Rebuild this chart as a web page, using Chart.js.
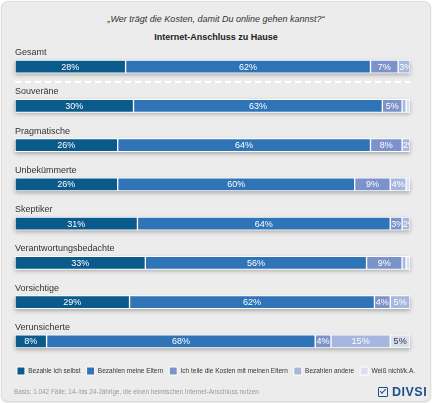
<!DOCTYPE html>
<html>
<head>
<meta charset="utf-8">
<script src="https://cdn.jsdelivr.net/npm/chart.js@4.4.1/dist/chart.umd.min.js"></script>
<style>
  html, body { margin: 0; padding: 0; background: #fff; }
  body { width: 432px; height: 403px; overflow: hidden; position: relative; font-family: 'Liberation Sans', Arial, sans-serif; }
  .panel { position: absolute; left: 1px; top: 1px; width: 428px; height: 399px; background: #ececec; border: 1px solid #dcdcdc; border-radius: 7px; box-shadow: 0 1px 2px rgba(0,0,0,0.12); }
  .wrap { position: absolute; left: 0; top: 0; width: 432px; height: 403px; }
  .title { position: absolute; left: 0; width: 432px; top: 14px; text-align: center; font-size: 9px; font-style: italic; color: #333; }
  .subtitle { position: absolute; left: 0; width: 432px; top: 32px; text-align: center; font-size: 9px; font-weight: bold; color: #222; }
  .basis { position: absolute; left: 14px; top: 388px; font-size: 6.4px; color: #9a9a9a; }
  .logo { position: absolute; left: 378px; top: 385px; font-size: 12.5px; font-weight: bold; color: #1f4e8c; letter-spacing: 0.5px; }
  .logo .box { display: inline-block; width: 8px; height: 8px; border: 1.6px solid #1f4e8c; border-radius: 1px; margin-right: 4px; vertical-align: -1px; position: relative; }
  .logo .box::after { content: ''; position: absolute; left: 1px; top: 1px; width: 5px; height: 2px; border-left: 1.4px solid #1f4e8c; border-bottom: 1.4px solid #1f4e8c; transform: rotate(-45deg); }
</style>
</head>
<body>
<div class="panel"></div>
<div class="title">„Wer trägt die Kosten, damit Du online gehen kannst?“</div>
<div class="subtitle">Internet-Anschluss zu Hause</div>
<div class="wrap"><canvas id="chart"></canvas></div>
<div class="basis">Basis: 1.042 Fälle; 14- bis 24-Jährige, die einen heimischen Internet-Anschluss nutzen</div>
<div class="logo"><span class="box"></span>DIVSI</div>
<script>
const categories = ['Gesamt', 'Souveräne', 'Pragmatische', 'Unbekümmerte', 'Skeptiker', 'Verantwortungsbedachte', 'Vorsichtige', 'Verunsicherte']
const seriesNames = ['Bezahle ich selbst', 'Bezahlen meine Eltern', 'Ich teile die Kosten mit meinen Eltern', 'Bezahlen andere', 'Weiß nicht/k.A.']
const selbst = [28, 30, 26, 26, 31, 33, 29, 8]
const eltern = [62, 63, 64, 60, 64, 56, 62, 68]
const teilen = [7, 5, 8, 9, 3, 9, 4, 4]
const andere = [3, 1, 2, 4, 2, 1, 5, 15]
const weissNicht = [0, 1, 0, 1, 0, 1, 0, 5]

const colors = ['#0b5a8c', '#2f74b7', '#7b92ca', '#a6b6de', '#dadff0']
const labelColors = ['#fff', '#fff', '#fff', '#fff', '#333']
const allSeries = [selbst, eltern, teilen, andere, weissNicht]

const BAR = 13

// shadow under each bar, category names, dashed divider
const decor = {
    id: 'decor',
    beforeDatasetsDraw(chart) {
        const ctx = chart.ctx
        const x = chart.scales.x, y = chart.scales.y
        ctx.save()
        categories.forEach((c, i) => {
            const total = allSeries.reduce((s, arr) => s + arr[i], 0)
            const yc = y.getPixelForValue(i)
            ctx.shadowColor = 'rgba(0,0,0,0.28)'
            ctx.shadowBlur = 4
            ctx.shadowOffsetY = 2
            ctx.fillStyle = '#fff'
            ctx.fillRect(x.getPixelForValue(0), yc - BAR / 2, x.getPixelForValue(total) - x.getPixelForValue(0), BAR)
        })
        ctx.restore()

        ctx.save()
        ctx.font = '9px "Liberation Sans", Arial, sans-serif'
        ctx.fillStyle = '#333'
        ctx.textBaseline = 'alphabetic'
        categories.forEach((c, i) => {
            ctx.fillText(c, x.getPixelForValue(0), y.getPixelForValue(i) - BAR / 2 - 5)
        })
        const y0 = y.getPixelForValue(0) + BAR / 2
        const y1 = y.getPixelForValue(1) - BAR / 2 - 12
        const yd = Math.round((y0 + y1) / 2) + 2
        ctx.strokeStyle = '#ffffff'
        ctx.lineWidth = 2
        ctx.setLineDash([6, 4])
        ctx.beginPath()
        ctx.moveTo(x.getPixelForValue(0), yd)
        ctx.lineTo(x.getPixelForValue(100), yd)
        ctx.stroke()
        ctx.restore()
    },
    afterDatasetsDraw(chart) {
        const ctx = chart.ctx
        ctx.save()
        ctx.font = '9px "Liberation Sans", Arial, sans-serif'
        ctx.textBaseline = 'middle'
        chart.data.datasets.forEach((ds, di) => {
            const meta = chart.getDatasetMeta(di)
            meta.data.forEach((bar, i) => {
                const v = ds.data[i]
                if (v < 2) return
                const left = Math.min(bar.base, bar.x), w = Math.abs(bar.x - bar.base)
                const txt = v + '%'
                const tw = ctx.measureText(txt).width
                ctx.save()
                ctx.beginPath()
                ctx.rect(left + 1, bar.y - BAR / 2, w - 2, BAR)
                ctx.clip()
                ctx.fillStyle = labelColors[di]
                if (tw > w - 2) {
                    ctx.textAlign = 'left'
                    ctx.fillText(txt, left + 1, bar.y + 0.5)
                } else {
                    ctx.textAlign = 'center'
                    ctx.fillText(txt, left + w / 2, bar.y + 0.5)
                }
                ctx.restore()
            })
        })
        ctx.restore()
    }
}

// invisible axes used only as side margins, so the legend keeps the full width
const spacer = (w, pos) => ({
    type: 'category',
    position: pos,
    display: true,
    ticks: { display: false },
    grid: { display: false },
    border: { display: false },
    afterFit(axis) { axis.width = w }
})

new Chart(document.getElementById('chart'), {
    type: 'bar',
    data: {
        labels: categories,
        datasets: allSeries.map((arr, k) => ({
            label: seriesNames[k],
            data: arr,
            backgroundColor: colors[k],
            borderColor: '#fff',
            borderWidth: 1,
            borderSkipped: false,
            barThickness: BAR
        }))
    },
    options: {
        indexAxis: 'y',
        responsive: true,
        maintainAspectRatio: false,
        animation: false,
        layout: { padding: { top: 47, left: 4, right: 4, bottom: 18 } },
        scales: {
            x: { stacked: true, min: 0, max: 100, display: false },
            y: Object.assign(spacer(11, 'left'), { stacked: true }),
            yRight: spacer(18, 'right')
        },
        plugins: {
            legend: {
                position: 'bottom',
                labels: {
                    boxWidth: 8,
                    boxHeight: 8,
                    padding: 6,
                    color: '#333',
                    font: { family: '"Liberation Sans", Arial, sans-serif', size: 6.5 }
                }
            },
            tooltip: { enabled: false }
        }
    },
    plugins: [decor]
})
</script>
</body>
</html>
